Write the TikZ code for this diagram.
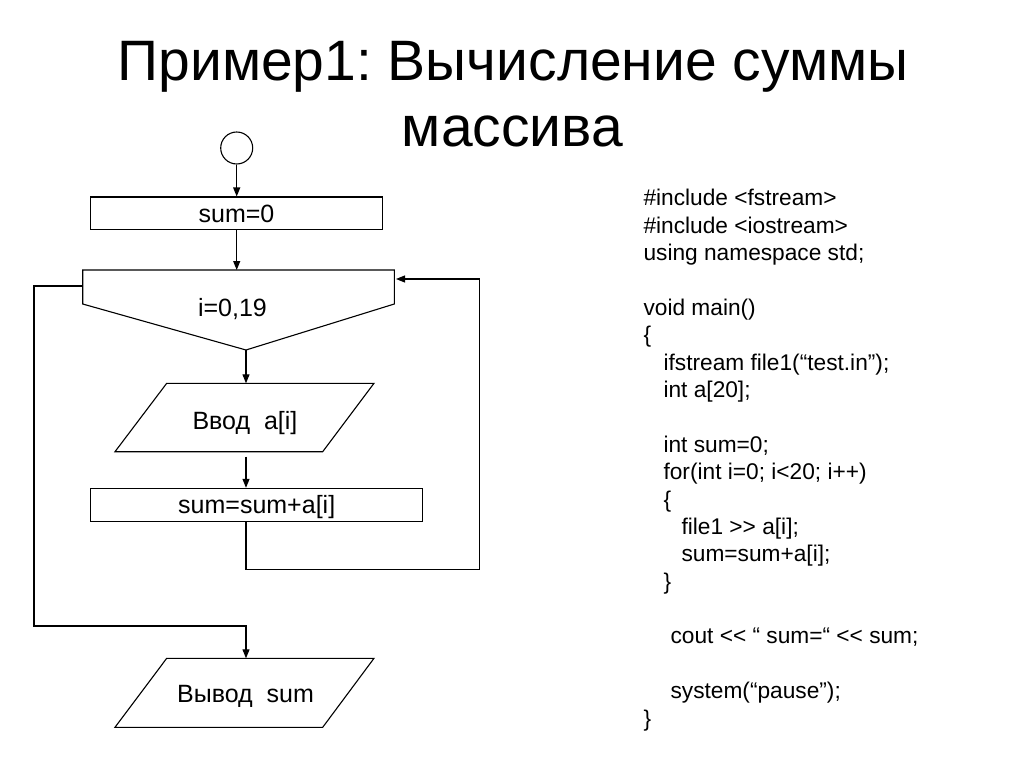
\documentclass[tikz,border=0pt]{standalone}
\usepackage{fontspec}
\setmainfont{Liberation Sans}[Ligatures=TeXOff]
\usetikzlibrary{arrows.meta}
\frenchspacing
\begin{document}
\begin{tikzpicture}[x=1pt,y=-1pt,
  line width=1.1pt,
  arr/.style={-{Triangle[length=9pt,width=7pt]}},
  blk/.style={draw, inner sep=0pt, text height=18pt, text depth=0pt, font=\fontsize{25}{30}\selectfont},
  lbl/.style={anchor=base, inner sep=0pt, font=\fontsize{25}{30}\selectfont},
  code/.style={anchor=base west, inner sep=0pt, font=\fontsize{22.7}{27}\selectfont},
  ttl/.style={anchor=base, inner sep=0pt, font=\fontsize{57}{64}\selectfont}]
\useasboundingbox (0,0) rectangle (1024,767);

% title
\node[ttl] (t1) at (513,81) {Пример1: Вычисление суммы};
\node[ttl] (t2) at (512.5,147) {массива};

% flowchart
\node[draw, circle, minimum size=32pt, inner sep=0pt] (start) at (236.7,148) {};
\node[blk, minimum width=291.6pt, minimum height=32.3pt] (s0) at (236.5,213.2) {sum=0};

% loop header
\draw (82.7,270) coordinate (lpTL) -- (394.3,270) coordinate (lpTR) -- (394.3,304)
      -- (246,350) coordinate (lpB) -- (82.7,304) -- cycle;
\coordinate (lpT) at (236.7,270);
\coordinate (lpL) at (82.7,286);
\coordinate (lpR) at (396,279);
\node[lbl] (loop) at (232.5,316) {i=0,19};

% input
\draw (166.7,383.3) -- (374,383.3) -- (322.7,451.7) -- (115,451.7) -- cycle;
\coordinate (inT) at (246,383.3);
\coordinate (inB) at (246,456.5);
\node[lbl] (in) at (245,429.3) {Ввод\ \ a[i]};

% sum step
\node[blk, minimum width=332pt, minimum height=32.7pt] (s1) at (256.7,504.7) {sum=sum+a[i]};
\coordinate (s1B) at (246,521);
\coordinate (r1) at (479.3,569.3);

% output
\draw (166.7,658.3) -- (374,658.3) -- (322.7,727.3) -- (115,727.3) -- cycle;
\coordinate (outT) at (246,658.3);
\coordinate (l1) at (34,626);
\node[lbl] (out) at (245.5,702.7) {Вывод\ \ sum};

% connectors
\draw[arr] (start) -- (s0.north -| start);
\draw[arr] (s0.south -| lpT) -- (lpT);
\draw[arr] (lpB) -- (inT);
\draw[arr] (inB) -- (s1.north -| inB);
\draw[arr] (s1B) |- (r1) |- (lpR);
\draw[arr] (lpL) -| (l1) -| (outT);

% code
\node[code] (c1)  at (643,206.0) {\#include <fstream>};
\node[code] (c2)  at (643,233.4) {\#include <iostream>};
\node[code] (c3)  at (643,260.7) {using namespace std;};
\node[code] (c4)  at (643,315.5) {void main()};
\node[code] (c5)  at (643,342.8) {\{};
\node[code] (c6)  at (663,370.2) {ifstream file1(“test.in”);};
\node[code] (c7)  at (663,397.6) {int a[20];};
\node[code] (c8)  at (663,452.3) {int sum=0;};
\node[code] (c9)  at (663,479.7) {for(int i=0; i<20; i++)};
\node[code] (c10) at (663,507.1) {\{};
\node[code] (c11) at (681,534.5) {file1 >> a[i];};
\node[code] (c12) at (681,561.8) {sum=sum+a[i];};
\node[code] (c13) at (663,589.2) {\}};
\node[code] (c14) at (670,643.9) {cout << “ sum=“ << sum;};
\node[code] (c15) at (670,698.7) {system(“pause”);};
\node[code] (c16) at (643,726.0) {\}};
\end{tikzpicture}
\end{document}
